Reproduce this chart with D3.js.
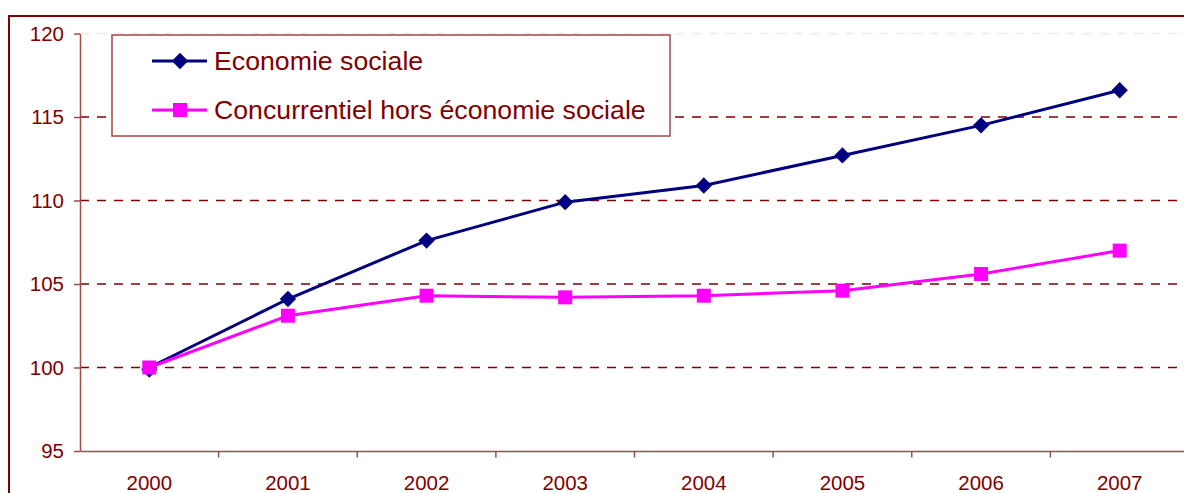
<!DOCTYPE html>
<html>
<head>
<meta charset="utf-8">
<script src="https://cdnjs.cloudflare.com/ajax/libs/d3/7.8.5/d3.min.js"></script>
<style>
  body { margin: 0; background: #fff; }
  text { font-family: "Liberation Sans", Arial, sans-serif; }
</style>
</head>
<body>
<div id="chart"></div>
<script>
// data
var years = ["2000", "2001", "2002", "2003", "2004", "2005", "2006", "2007"];
var ecoSociale = [100, 104.1, 107.6, 109.9, 110.9, 112.7, 114.5, 116.6];
var horsEco = [100, 103.1, 104.3, 104.2, 104.3, 104.6, 105.6, 107.0];
var yTicks = [95, 100, 105, 110, 115, 120];
var seriesNames = ["Economie sociale", "Concurrentiel hors économie sociale"];

var W = 1184, H = 493;
var plotL = 80, plotT = 33.5, plotB = 451, plotR = 1189;
var red = "#800000", axisCol = "#a04a4a";
var dSize = 170;

var svg = d3.select("#chart")
            .append("svg")
            .attr("width", W)
            .attr("height", H);

// outer frame
svg.append("rect")
   .attr("x", 9).attr("y", 16)
   .attr("width", W + 20).attr("height", H + 20)
   .attr("fill", "none")
   .attr("stroke", red)
   .attr("stroke-width", 2);

var x = d3.scaleBand().domain(years).range([plotL, plotR]);
var y = d3.scaleLinear().domain([95, 120]).range([plotB, plotT]);

// grid lines
svg.selectAll(".grid")
   .data(yTicks.filter(function(d) { return d > 95; }))
   .enter()
   .append("line")
   .attr("x1", plotL).attr("x2", plotR)
   .attr("y1", function(d) { return y(d); })
   .attr("y2", function(d) { return y(d); })
   .attr("stroke", function(d) { return d == 120 ? "#f2e6e6" : red; })
   .attr("stroke-width", 1.3)
   .attr("stroke-dasharray", "9,8");

// y axis
var yAxis = svg.append("g")
   .attr("transform", "translate(" + plotL + ",0)")
   .call(d3.axisLeft(y).tickValues(yTicks).tickSize(6).tickPadding(10).tickSizeOuter(0));
// x axis
var xAxis = svg.append("g")
   .attr("transform", "translate(0," + plotB + ")")
   .call(d3.axisBottom(x).tickSize(0).tickPadding(24));

[yAxis, xAxis].forEach(function(g) {
  g.select(".domain").attr("stroke", axisCol).attr("stroke-width", 1.5);
  g.selectAll(".tick line").attr("stroke", axisCol).attr("stroke-width", 1.5);
  g.selectAll("text")
   .attr("fill", red)
   .style("font-size", "20.5px")
   .style("font-family", "Liberation Sans, Arial, sans-serif");
});
// category boundary ticks
svg.selectAll(".xtick")
   .data(years.slice(1))
   .enter()
   .append("line")
   .attr("x1", function(d) { return x(d); })
   .attr("x2", function(d) { return x(d); })
   .attr("y1", plotB).attr("y2", plotB + 6.5)
   .attr("stroke", axisCol).attr("stroke-width", 1.5);

var line = d3.line()
   .x(function(d, i) { return x(years[i]) + x.bandwidth() / 2; })
   .y(function(d) { return y(d); });

// 2000 diamond sits under the square
svg.append("path")
   .attr("d", d3.symbol().type(d3.symbolDiamond2).size(dSize))
   .attr("transform", "translate(" + (x(years[0]) + x.bandwidth() / 2) + "," + (y(ecoSociale[0]) + 2) + ")")
   .attr("fill", "#000080");

// economie sociale
svg.append("path")
   .datum(ecoSociale)
   .attr("d", line)
   .attr("fill", "none")
   .attr("stroke", "#000080")
   .attr("stroke-width", 3);
// concurrentiel
svg.append("path")
   .datum(horsEco)
   .attr("d", line)
   .attr("fill", "none")
   .attr("stroke", "#ff00ff")
   .attr("stroke-width", 3);

svg.selectAll(".sq")
   .data(horsEco)
   .enter()
   .append("rect")
   .attr("x", function(d, i) { return x(years[i]) + x.bandwidth() / 2 - 7; })
   .attr("y", function(d) { return y(d) - 7; })
   .attr("width", 14).attr("height", 14)
   .attr("fill", "#ff00ff");

svg.selectAll(".dm")
   .data(ecoSociale.slice(1))
   .enter()
   .append("path")
   .attr("d", d3.symbol().type(d3.symbolDiamond2).size(dSize))
   .attr("transform", function(d, i) {
     return "translate(" + (x(years[i + 1]) + x.bandwidth() / 2) + "," + y(d) + ")";
   })
   .attr("fill", "#000080");

// legend
var lg = svg.append("g");
lg.append("rect")
  .attr("x", 112).attr("y", 35)
  .attr("width", 558).attr("height", 101)
  .attr("fill", "#fff")
  .attr("stroke", axisCol)
  .attr("stroke-width", 1.5);
var cols = ["#000080", "#ff00ff"];
var rowY = [61, 110];
seriesNames.forEach(function(name, i) {
  lg.append("line")
    .attr("x1", 152).attr("x2", 207)
    .attr("y1", rowY[i]).attr("y2", rowY[i])
    .attr("stroke", cols[i]).attr("stroke-width", 3);
  if (i == 0) {
    lg.append("path")
      .attr("d", d3.symbol().type(d3.symbolDiamond2).size(dSize))
      .attr("transform", "translate(180," + rowY[i] + ")")
      .attr("fill", cols[i]);
  } else {
    lg.append("rect")
      .attr("x", 173).attr("y", rowY[i] - 7)
      .attr("width", 14).attr("height", 14)
      .attr("fill", cols[i]);
  }
  lg.append("text")
    .attr("x", 214).attr("y", rowY[i] + 9)
    .attr("fill", red)
    .style("font-size", "26.7px")
    .text(name);
});
</script>
</body>
</html>
